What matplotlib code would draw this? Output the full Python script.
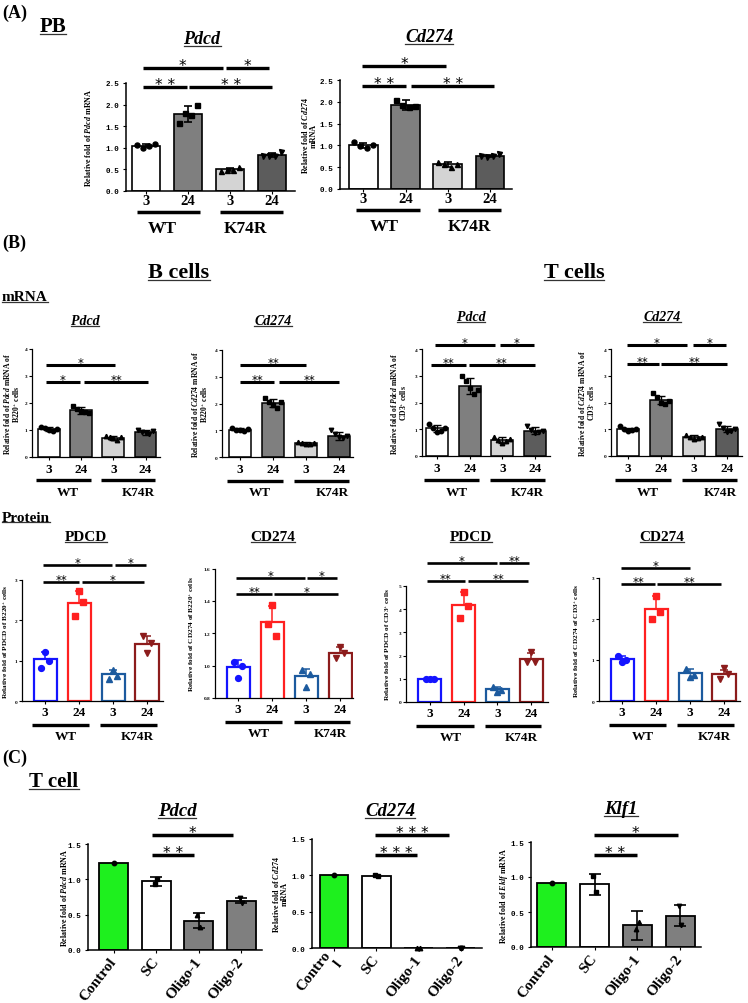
import numpy as np
import matplotlib
matplotlib.use('Agg')
import matplotlib.pyplot as plt
import matplotlib.transforms as mtrans
from matplotlib.lines import Line2D

# ---------------- data ----------------
time_labels = ['3', '24', '3', '24']
genotype_labels = ['WT', 'K74R']
c_labels = ['Control', 'SC', 'Oligo-1', 'Oligo-2']
c_labels_cd274 = ['Contro\nl', 'SC', 'Oligo-1', 'Oligo-2']

# (A) PB mRNA
pb_pdcd_mean = [1.05, 1.78, 0.50, 0.83]
pb_pdcd_sd = [0.04, 0.19, 0.04, 0.05]
pb_pdcd_pts = [[1.07, 1.00, 1.04, 1.09], [1.58, 1.80, 1.75, 2.00],
               [0.47, 0.49, 0.48, 0.55], [0.80, 0.82, 0.81, 0.90]]
pb_cd274_mean = [1.00, 1.93, 0.57, 0.76]
pb_cd274_sd = [0.06, 0.11, 0.06, 0.02]
pb_cd274_pts = [[1.08, 0.99, 0.93, 1.00], [2.05, 1.92, 1.87, 1.90],
                [0.62, 0.58, 0.50, 0.57], [0.75, 0.74, 0.75, 0.81]]

# (B) mRNA
b_pdcd_mean = [1.03, 1.72, 0.70, 0.90]
b_pdcd_sd = [0.08, 0.12, 0.08, 0.10]
b_pdcd_pts = [[1.10, 1.05, 1.00, 0.95, 1.02], [1.88, 1.78, 1.70, 1.65, 1.62],
              [0.78, 0.72, 0.68, 0.62, 0.72], [1.00, 0.92, 0.88, 0.85, 0.95]]
b_cd274_mean = [1.02, 2.02, 0.52, 0.80]
b_cd274_sd = [0.05, 0.15, 0.04, 0.15]
b_cd274_pts = [[1.08, 1.02, 1.00, 0.98, 1.04], [2.20, 2.05, 1.95, 1.85, 2.05],
               [0.56, 0.52, 0.50, 0.48, 0.53], [1.00, 0.85, 0.75, 0.72, 0.80]]
t_pdcd_mean = [1.03, 2.62, 0.60, 0.95]
t_pdcd_sd = [0.12, 0.30, 0.10, 0.12]
t_pdcd_pts = [[1.20, 1.05, 0.90, 0.95, 1.05], [3.00, 2.80, 2.55, 2.30, 2.45],
              [0.72, 0.60, 0.50, 0.55, 0.63], [1.12, 0.98, 0.85, 0.88, 0.95]]
t_cd274_mean = [1.00, 2.10, 0.70, 1.02]
t_cd274_sd = [0.06, 0.15, 0.08, 0.12]
t_cd274_pts = [[1.12, 1.00, 0.95, 0.97, 1.00], [2.35, 2.20, 2.00, 1.95, 2.05],
               [0.78, 0.70, 0.65, 0.66, 0.72], [1.20, 1.05, 0.90, 0.95, 1.00]]

# (B) protein
bp_pdcd_mean = [1.03, 2.42, 0.67, 1.42]
bp_pdcd_sd = [0.19, 0.30, 0.10, 0.20]
bp_pdcd_pts = [[0.83, 1.22, 1.00], [2.10, 2.72, 2.45], [0.55, 0.77, 0.63], [1.60, 1.20, 1.45]]
bp_cd274_mean = [0.99, 1.27, 0.935, 1.075]
bp_cd274_sd = [0.045, 0.10, 0.045, 0.04]
bp_cd274_pts = [[1.025, 0.925, 1.00], [1.26, 1.375, 1.18], [0.97, 0.87, 0.95], [1.05, 1.115, 1.075]]
tp_pdcd_mean = [1.00, 4.18, 0.55, 1.87]
tp_pdcd_sd = [0.02, 0.56, 0.08, 0.25]
tp_pdcd_pts = [[1.00, 0.97, 0.98], [3.62, 4.72, 4.15], [0.63, 0.42, 0.53], [1.74, 2.14, 1.74]]
tp_cd274_mean = [1.02, 2.25, 0.68, 0.66]
tp_cd274_sd = [0.07, 0.32, 0.10, 0.10]
tp_cd274_pts = [[1.10, 0.94, 1.00], [2.00, 2.57, 2.18], [0.78, 0.58, 0.63], [0.54, 0.80, 0.66]]

# (C) T cell knock-down
c_pdcd_mean = [1.23, 0.97, 0.415, 0.70]
c_pdcd_sd = [0.0, 0.06, 0.11, 0.04]
c_pdcd_pts = [[1.23], [0.94, 1.00], [0.50, 0.33], [0.73, 0.67]]
c_cd274_mean = [1.00, 0.99, 0.0, 0.0]
c_cd274_sd = [0.0, 0.0, 0.0, 0.0]
c_cd274_pts = [[1.00], [1.00, 0.99], [0.0, 0.0], [0.0, 0.0]]
c_klf1_mean = [0.92, 0.895, 0.31, 0.45]
c_klf1_sd = [0.0, 0.155, 0.21, 0.15]
c_klf1_pts = [[0.92], [1.01, 0.78], [0.26, 0.36], [0.58, 0.32]]

# significance brackets: (x start, x end, y, label) in data units
sig_pb_pdcd = [(-0.08, 1.83, 2.85, '*'), (1.90, 2.93, 2.85, '*'),
               (-0.08, 0.98, 2.41, '* *'), (1.03, 3.00, 2.41, '* *')]
sig_pb_cd274 = [(-0.02, 1.97, 2.83, '*'), (-0.02, 1.02, 2.37, '* *'), (1.14, 3.10, 2.37, '* *')]
sig_b_pdcd = [(-0.10, 2.06, 3.41, '*'), (-0.10, 0.97, 2.77, '*'), (1.10, 3.08, 2.77, '**')]
sig_b_cd274 = [(0.0, 2.00, 3.44, '**'), (0.0, 1.04, 2.79, '**'), (1.19, 3.00, 2.79, '**')]
sig_t_pdcd = [(-0.06, 1.77, 4.15, '*'), (1.92, 2.97, 4.15, '*'),
              (-0.17, 0.88, 3.41, '**'), (0.98, 2.99, 3.41, '**')]
sig_t_cd274 = [(-0.02, 1.77, 4.15, '*'), (1.95, 2.98, 4.15, '*'),
               (-0.02, 0.92, 3.45, '**'), (1.01, 3.01, 3.45, '**')]
sig_bp_pdcd = [(-0.06, 1.97, 3.37, '*'), (2.06, 2.97, 3.37, '*'),
               (-0.06, 1.00, 2.95, '**'), (1.09, 2.91, 2.95, '*')]
sig_bp_cd274 = [(-0.06, 1.97, 1.54, '*'), (2.03, 2.91, 1.54, '*'),
                (-0.06, 1.00, 1.44, '**'), (1.06, 2.94, 1.44, '*')]
sig_tp_pdcd = [(-0.09, 1.99, 5.99, '*'), (2.05, 2.94, 5.99, '**'),
               (-0.09, 1.04, 5.22, '**'), (1.13, 2.91, 5.22, '**')]
sig_tp_cd274 = [(-0.03, 2.00, 3.24, '*'), (-0.03, 0.97, 2.85, '**'), (1.03, 2.91, 2.85, '**')]
sig_c_pdcd = [(0.91, 2.81, 1.63, '*'), (0.91, 1.89, 1.34, '* *')]
sig_c_cd274 = [(0.97, 2.72, 1.55, '* * *'), (0.97, 1.96, 1.28, '* * *')]
sig_c_klf1 = [(0.98, 2.95, 1.60, '*'), (0.98, 1.99, 1.31, '* *')]

# ---------------- style ----------------
plt.rcParams['font.family'] = ['Liberation Serif', 'DejaVu Sans']
plt.rcParams['font.weight'] = 'bold'
plt.rcParams['mathtext.fontset'] = 'custom'
plt.rcParams['mathtext.rm'] = 'Liberation Serif:bold'
plt.rcParams['mathtext.it'] = 'Liberation Serif:italic:bold'
plt.rcParams['mathtext.bf'] = 'Liberation Serif:bold'

W, H = 748, 1004
fig = plt.figure(figsize=(W / 100, H / 100), dpi=100)
fig.patch.set_facecolor('white')

gray_faces = ['white', '#7f7f7f', '#d4d4d4', '#5c5c5c']
prot_edges = ['#1414ff', '#ff2020', '#1c5a9e', '#8c1c1c']
c_faces = ['#1ef01e', 'white', '#7f7f7f', '#7f7f7f']
marks = ['o', 's', '^', 'v']
offsets = {1: [0.0], 2: [-0.03, 0.03], 3: [-0.12, 0.0, 0.12],
           4: [-0.22, -0.08, 0.08, 0.22], 5: [-0.24, -0.12, 0.0, 0.12, 0.24]}


def px_ax(left, right, top, bottom):
    return fig.add_axes([left / W, 1 - bottom / H, (right - left) / W, (bottom - top) / H])


def chart(box, xlim, ylim, yticks, yfmt, means, sds, pts, faces, edges, mcols,
          two_sided, st, ylabel, ylab_px, xlabels, sig):
    left, right, top, bottom = box
    ax = px_ax(left, right, top, bottom)
    x = np.arange(len(means))
    ax.bar(x, means, width=0.68, color=faces, edgecolor=edges, linewidth=st['bar_lw'], zorder=2)
    for i in range(len(means)):
        if sds[i] > 0:
            lower = sds[i] if two_sided else 0.0
            ax.errorbar(x[i], means[i], yerr=[[lower], [sds[i]]], fmt='none', ecolor=edges[i],
                        elinewidth=st['err_lw'], capsize=st['cap'], capthick=st['err_lw'], zorder=3)
        off = np.array(offsets[len(pts[i])])
        ax.plot(x[i] + off, pts[i], linestyle='none', marker=marks[i], color=mcols[i],
                ms=st['ms'], zorder=4, clip_on=False)
    for s in ['top', 'right']:
        ax.spines[s].set_visible(False)
    for s in ['left', 'bottom']:
        ax.spines[s].set_linewidth(st['spine_lw'])
    ax.set_yticks(yticks)
    ax.set_yticklabels([yfmt % v for v in yticks], fontsize=st['ytfs'], family=st['ytfam'],
                       fontweight='bold')
    ax.tick_params(axis='y', length=2.2, width=0.8, pad=st['ypad'])
    ax.set_xticks(x)
    if st.get('rot'):
        ax.set_xticklabels(xlabels, fontsize=st['xtfs'], rotation=st['rot'], ha='right',
                           va='center', rotation_mode='anchor')
    else:
        ax.set_xticklabels(xlabels, fontsize=st['xtfs'])
    ax.tick_params(axis='x', length=2.2, width=0.8, pad=st['xpad'])
    ax.text((ylab_px - left) / (right - left), 0.5, ylabel, transform=ax.transAxes,
            rotation=90, ha='center', va='center', fontsize=st['ylfs'], multialignment='center',
            linespacing=1.0)
    for (a, b, y, lab) in sig:
        ax.plot([a, b], [y, y], color='black', lw=st['sig_lw'], clip_on=False,
                solid_capstyle='butt', zorder=5)
        ax.annotate(lab, xy=((a + b) / 2, y), xytext=(0, st['star_dy']), textcoords='offset points',
                    ha='center', va='baseline', fontsize=st['star_fs'], family='DejaVu Sans',
                    fontweight='normal', annotation_clip=False)
    ax.set_xlim(*xlim)
    ax.set_ylim(*ylim)
    return ax


def genotype_rows(ax, spans, label_xs, line_off, label_off, fs, lw):
    base = mtrans.blended_transform_factory(ax.transData, ax.transAxes)
    tl = mtrans.offset_copy(base, fig=fig, x=0, y=-line_off, units='dots')
    for (a, b) in spans:
        ax.plot([a, b], [0, 0], transform=tl, color='black', lw=lw, clip_on=False,
                solid_capstyle='butt')
    tt = mtrans.offset_copy(base, fig=fig, x=0, y=-label_off, units='dots')
    for lab, xx in zip(genotype_labels, label_xs):
        ax.text(xx, 0, lab, transform=tt, ha='center', va='center', fontsize=fs)


stA = dict(bar_lw=1.2, err_lw=1.2, cap=3.2, ms=3.6, spine_lw=1.1, ytfs=5.5, ytfam='Liberation Mono',
           ypad=2.5, xtfs=10.5, xpad=0.3, ylfs=5.8, sig_lw=2.4, star_fs=11, star_dy=-1.5)
stB = dict(bar_lw=1.1, err_lw=1.0, cap=2.6, ms=3.2, spine_lw=0.9, ytfs=3.8, ytfam='Liberation Serif',
           ypad=1.0, xtfs=9.5, xpad=2.2, ylfs=5.5, sig_lw=2.2, star_fs=8.5, star_dy=-0.6)
stP = dict(bar_lw=1.6, err_lw=1.1, cap=3.0, ms=4.2, spine_lw=0.9, ytfs=3.8, ytfam='Liberation Serif',
           ypad=1.0, xtfs=9.5, xpad=1.6, ylfs=5.2, sig_lw=1.9, star_fs=8.5, star_dy=-0.6)
stC = dict(bar_lw=1.3, err_lw=1.2, cap=4.0, ms=3.2, spine_lw=1.1, ytfs=5.5, ytfam='Liberation Mono',
           ypad=2.5, xtfs=11, xpad=4.0, rot=52, ylfs=5.8, sig_lw=2.5, star_fs=11, star_dy=-1.5)

k3 = ['black'] * 4
kc = ['black'] * 4
yA = [0.0, 0.5, 1.0, 1.5, 2.0, 2.5]
yB = [0, 1, 2, 3, 4]
yC = [0.0, 0.5, 1.0, 1.5]

# ---- (A) ----
axA1 = chart((126, 295, 84, 192), (-0.48, 3.55), (0, 2.5), yA, '%.1f',
             pb_pdcd_mean, pb_pdcd_sd, pb_pdcd_pts, gray_faces, k3, k3, True, stA,
             'Relative fold of $\\mathit{Pdcd}$ mRNA', 88, time_labels, sig_pb_pdcd)
axA2 = chart((340, 512, 81, 190), (-0.55, 3.52), (0, 2.5), yA, '%.1f',
             pb_cd274_mean, pb_cd274_sd, pb_cd274_pts, gray_faces, k3, k3, True, stA,
             'Relative fold of $\\mathit{Cd274}$\nmRNA', 309, time_labels, sig_pb_cd274)
genotype_rows(axA1, [(-0.21, 1.29), (1.76, 3.26)], [0.38, 2.38], 21, 37, 12.5, 2.5)
genotype_rows(axA2, [(-0.16, 1.34), (1.78, 3.27)], [0.5, 2.52], 21, 37, 12.5, 2.5)

# ---- (B) mRNA ----
b_spans = [(-0.4, 1.3), (1.63, 3.3)]
b_labx = [0.6, 2.78]
axB1 = chart((32, 160, 350, 457.5), (-0.53, 3.45), (0, 4), yB, '%d',
             b_pdcd_mean, b_pdcd_sd, b_pdcd_pts, gray_faces, k3, k3, True, stB,
             'Relative fold of $\\mathit{Pdcd}$ mRNA of\nB220$^{+}$ cells', 12, time_labels, sig_b_pdcd)
axB2 = chart((222, 353, 351, 458), (-0.55, 3.42), (0, 4), yB, '%d',
             b_cd274_mean, b_cd274_sd, b_cd274_pts, gray_faces, k3, k3, True, stB,
             'Relative fold of $\\mathit{Cd274}$ mRNA of\nB220$^{+}$ cells', 200, time_labels, sig_b_cd274)
axB3 = chart((422, 550, 350, 457), (-0.46, 3.46), (0, 4), yB, '%d',
             t_pdcd_mean, t_pdcd_sd, t_pdcd_pts, gray_faces, k3, k3, True, stB,
             'Relative fold of $\\mathit{Pdcd}$ mRNA of\nCD3$^{+}$ cells', 399, time_labels, sig_t_pdcd)
axB4 = chart((611, 742, 350, 457), (-0.52, 3.45), (0, 4), yB, '%d',
             t_cd274_mean, t_cd274_sd, t_cd274_pts, gray_faces, k3, k3, True, stB,
             'Relative fold of $\\mathit{Cd274}$ mRNA of\nCD3$^{+}$ cells', 587, time_labels, sig_t_cd274)
for ax in (axB1, axB2, axB3, axB4):
    genotype_rows(ax, b_spans, b_labx, 23.5, 35.5, 9.5, 2.4)

# ---- (B) protein ----
whites = ['white'] * 4
axP1 = chart((22, 163, 581, 702), (-0.68, 3.47), (0, 3), [0, 1, 2, 3], '%d',
             bp_pdcd_mean, bp_pdcd_sd, bp_pdcd_pts, whites, prot_edges, prot_edges, False, stP,
             'Relative fold of PDCD of B220$^{+}$ cells', 6, time_labels, sig_bp_pdcd)
axP2 = chart((215, 353, 569.5, 699), (-0.68, 3.38), (0.8, 1.6), [0.8, 1.0, 1.2, 1.4, 1.6], '%.1f',
             bp_cd274_mean, bp_cd274_sd, bp_cd274_pts, whites, prot_edges, prot_edges, False, stP,
             'Relative fold of CD274 of B220$^{+}$ cells', 192, time_labels, sig_bp_cd274)
axP3 = chart((406, 548, 587, 703), (-0.71, 3.5), (0, 5), [0, 1, 2, 3, 4, 5], '%d',
             tp_pdcd_mean, tp_pdcd_sd, tp_pdcd_pts, whites, prot_edges, prot_edges, False, stP,
             'Relative fold of PDCD of CD3$^{+}$ cells', 388, time_labels, sig_tp_pdcd)
axP4 = chart((599, 740, 579, 702), (-0.68, 3.47), (0, 3), [0, 1, 2, 3], '%d',
             tp_cd274_mean, tp_cd274_sd, tp_cd274_pts, whites, prot_edges, prot_edges, False, stP,
             'Relative fold of CD274 of CD3$^{+}$ cells', 577, time_labels, sig_tp_cd274)
for ax in (axP1, axP2, axP3, axP4):
    genotype_rows(ax, b_spans, [0.62, 2.72], 24, 35, 9.5, 2.4)

# ---- (C) ----
chart((88, 262, 845, 951), (-0.6, 3.49), (0, 1.5), yC, '%.1f',
      c_pdcd_mean, c_pdcd_sd, c_pdcd_pts, c_faces, kc, kc, True, stC,
      'Relative fold of $\\mathit{Pdcd}$ mRNA', 64, c_labels, sig_c_pdcd)
chart((312, 482, 840, 949), (-0.52, 3.5), (0, 1.5), yC, '%.1f',
      c_cd274_mean, c_cd274_sd, c_cd274_pts, c_faces, kc, kc, True, stC,
      'Relative fold of $\\mathit{Cd274}$\nmRNA', 280, c_labels_cd274, sig_c_cd274)
chart((531, 701, 843, 948), (-0.49, 3.49), (0, 1.5), yC, '%.1f',
      c_klf1_mean, c_klf1_sd, c_klf1_pts, c_faces, kc, kc, True, stC,
      'Relative fold of $\\mathit{Eklf}$ mRNA', 504, c_labels, sig_c_klf1)

# ---------------- headings ----------------
headings = [
    # text, x px, y px, size, style, ha, underline
    ('(A)', 2, 13, 13, 'normal', 'left', False),
    ('PB', 53, 27, 15, 'normal', 'center', True),
    ('Pdcd', 202, 40, 13, 'italic', 'center', True),
    ('Cd274', 429, 38, 13, 'italic', 'center', True),
    ('(B)', 2, 243, 13, 'normal', 'left', False),
    ('B cells', 179, 273, 16, 'normal', 'center', True),
    ('T cells', 574, 273, 16, 'normal', 'center', True),
    ('mRNA', 2, 298, 11, 'normal', 'left', True),
    ('Pdcd', 85, 322, 10, 'italic', 'center', True),
    ('Cd274', 273, 322, 10, 'italic', 'center', True),
    ('Pdcd', 471, 318, 10, 'italic', 'center', True),
    ('Cd274', 662, 318, 10, 'italic', 'center', True),
    ('Protein', 2, 518, 11, 'normal', 'left', True),
    ('PDCD', 86, 538, 11, 'normal', 'center', True),
    ('CD274', 273, 538, 11, 'normal', 'center', True),
    ('PDCD', 471, 538, 11, 'normal', 'center', True),
    ('CD274', 662, 538, 11, 'normal', 'center', True),
    ('(C)', 2, 758, 13, 'normal', 'left', False),
    ('T cell', 54, 782, 15, 'normal', 'center', True),
    ('Pdcd', 177, 812, 13.5, 'italic', 'center', True),
    ('Cd274', 390, 812, 13.5, 'italic', 'center', True),
    ('Klf1', 621, 810, 13.5, 'italic', 'center', True),
]
texts = []
for (s, x, y, size, style, ha, ul) in headings:
    t = fig.text(x / W, 1 - y / H, s, fontsize=size, style=style, ha=ha, va='center',
                 fontweight='bold')
    texts.append((t, size, ul))

fig.canvas.draw()
renderer = fig.canvas.get_renderer()
for (t, size, ul) in texts:
    if not ul:
        continue
    bb = t.get_window_extent(renderer)
    em = size * 100 / 72.0
    yline = bb.y0 + 0.08 * em
    fig.add_artist(Line2D([bb.x0 / W, bb.x1 / W], [yline / H, yline / H],
                          transform=fig.transFigure, color='#333333', lw=0.9))

fig.savefig('out.png', dpi=100, facecolor='white')
